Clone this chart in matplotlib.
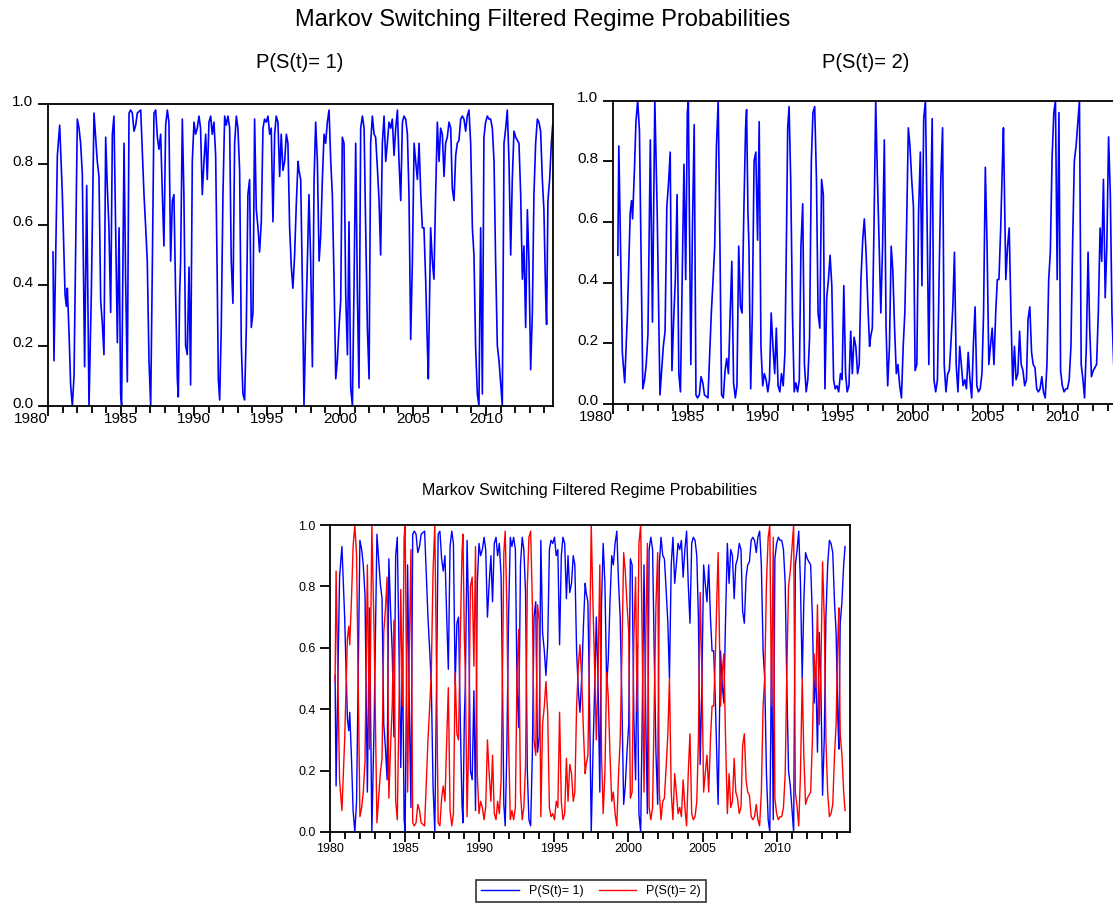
import numpy as np
import matplotlib.pyplot as plt
import matplotlib.transforms as mtransforms
from matplotlib.ticker import MultipleLocator, FormatStrFormatter

# Filtered probability of regime 1 (months after Jan 1980)
obs_month = [
    4.1, 4.9, 7.7, 9.6, 11.8, 14.0, 15.1, 15.9, 17.3, 18.6, 20.0, 21.4, 24.1,
    25.5, 26.8, 28.2, 30.1, 31.8, 33.7, 35.6, 37.8, 40.5, 41.9, 43.3, 44.7,
    46.0, 47.4, 48.8, 50.1, 51.5, 52.9, 54.2, 55.6, 57.0, 58.4, 59.7, 60.5,
    62.5, 63.8, 65.2, 66.6, 67.9, 69.3, 70.7, 72.1, 73.4, 76.2, 78.9, 80.3,
    81.6, 83.0, 84.4, 85.8, 87.1, 88.5, 89.9, 91.2, 92.6, 94.0, 95.3, 96.7,
    98.1, 99.4, 100.8, 102.2,
    103.5, 104.9, 106.3, 107.1, 108.2, 109.0, 110.4, 111.7, 113.1, 114.5,
    115.9, 117.2, 118.6, 120.0, 121.3, 122.7, 124.1, 125.4, 126.8, 128.2,
    129.6, 130.9, 132.3, 133.7, 135.0, 136.4, 137.8, 139.1, 140.0, 141.1,
    142.4, 143.8, 145.2, 146.5, 147.9, 149.3, 150.6, 152.0, 153.4, 154.8,
    156.1, 157.5, 158.9, 160.2, 161.6, 163.0, 164.3, 165.7, 167.1, 168.5,
    169.8, 171.2, 172.6, 173.9, 175.3, 176.7, 178.0, 179.4, 180.8, 182.2,
    183.5, 184.9, 186.3, 187.6, 189.0, 190.4, 191.7, 193.1, 194.5, 195.9,
    197.2, 198.6, 200.0, 201.3, 202.7, 204.1, 205.5,
    206.3, 207.7, 209.1, 210.4, 211.8, 213.2, 214.5, 215.9, 217.3, 218.7,
    220.0, 221.4, 222.8, 224.1, 225.5, 226.9, 228.2, 229.6, 231.0, 232.4,
    233.7, 235.1, 236.5, 237.8, 239.2, 240.6, 241.9, 243.3, 244.7, 246.1,
    247.4, 248.8, 250.2, 251.5, 252.9, 254.3, 255.6, 257.0, 258.4, 259.8,
    261.1, 262.5, 263.9, 265.2, 266.6, 268.0, 269.3, 270.7, 272.1, 273.4,
    274.8, 276.2, 277.6, 278.9, 280.3, 281.7, 283.0, 284.4, 285.8, 287.2,
    288.5, 289.9, 291.3, 292.6, 294.0, 295.4, 296.7, 298.1, 299.5, 300.9,
    302.2, 303.6, 305.0, 306.4, 307.7,
    309.0, 310.4, 311.8, 312.6, 313.7, 314.5, 315.9, 317.2, 318.6, 320.0,
    321.4, 322.7, 324.1, 325.5, 326.8, 328.2, 329.6, 331.0, 332.3, 333.7,
    335.1, 336.4, 337.8, 339.2, 340.5, 341.9, 343.3, 344.6, 346.0, 347.4,
    348.8, 350.1, 351.5, 352.9, 354.2, 355.6, 357.0, 358.3, 359.7, 361.1,
    362.5, 363.8, 365.2, 366.6, 367.9, 369.3, 370.7, 372.0, 373.4, 374.8,
    376.2, 377.5, 378.9, 380.3, 381.6, 383.0, 384.4, 385.7, 387.1, 388.5,
    389.9, 391.2, 392.6, 394.0, 395.3, 396.7, 398.1, 399.4, 400.8, 402.2,
    403.5, 404.9, 406.3, 407.6, 409.0, 409.8, 410.9, 412.3, 413.7, 414.8,
]
p1 = [
    0.51, 0.15, 0.83, 0.93, 0.70, 0.37, 0.33, 0.39, 0.24, 0.07, 0.00, 0.10, 0.95,
    0.92, 0.87, 0.77, 0.13, 0.73, 0.00, 0.37, 0.97, 0.81, 0.76, 0.35, 0.27,
    0.17, 0.89, 0.72, 0.59, 0.31, 0.90, 0.96, 0.59, 0.21, 0.59, 0.04, 0.00,
    0.87, 0.42, 0.08, 0.97, 0.98, 0.97, 0.91, 0.93, 0.97, 0.98, 0.70, 0.59,
    0.48, 0.15, 0.00, 0.48, 0.97, 0.98, 0.89, 0.85, 0.90, 0.70, 0.53, 0.93,
    0.98, 0.94, 0.48, 0.68,
    0.70, 0.37, 0.09, 0.03, 0.37, 0.48, 0.95, 0.70, 0.20, 0.17,
    0.46, 0.07, 0.81, 0.94, 0.90, 0.92, 0.96, 0.92, 0.70, 0.81,
    0.90, 0.75, 0.94, 0.96, 0.90, 0.94, 0.83, 0.42, 0.09, 0.02,
    0.26, 0.70, 0.96, 0.93, 0.96, 0.92, 0.48, 0.34, 0.87, 0.96,
    0.92, 0.78, 0.20, 0.04, 0.02, 0.26, 0.70, 0.75, 0.26, 0.31,
    0.95, 0.65, 0.59, 0.51, 0.61, 0.92, 0.95, 0.94, 0.96, 0.90,
    0.92, 0.61, 0.90, 0.96, 0.94, 0.76, 0.90, 0.78, 0.81, 0.90,
    0.87, 0.59, 0.46, 0.39, 0.50, 0.67, 0.81,
    0.78, 0.75, 0.40, 0.00, 0.26, 0.48, 0.70, 0.48, 0.13, 0.75,
    0.94, 0.81, 0.48, 0.56, 0.75, 0.90, 0.87, 0.94, 0.98, 0.81,
    0.70, 0.42, 0.09, 0.15, 0.26, 0.35, 0.89, 0.87, 0.37, 0.17,
    0.61, 0.06, 0.00, 0.39, 0.87, 0.37, 0.06, 0.92, 0.96, 0.92,
    0.59, 0.26, 0.09, 0.87, 0.96, 0.90, 0.89, 0.79, 0.68, 0.50,
    0.87, 0.96, 0.81, 0.87, 0.94, 0.92, 0.95, 0.83, 0.92, 0.98,
    0.81, 0.68, 0.94, 0.96, 0.95, 0.90, 0.70, 0.22, 0.48, 0.87,
    0.81, 0.75, 0.87, 0.70, 0.59,
    0.59, 0.42, 0.20, 0.09, 0.37, 0.59, 0.48, 0.42, 0.70, 0.94,
    0.81, 0.92, 0.90, 0.76, 0.87, 0.89, 0.94, 0.92, 0.72, 0.68,
    0.83, 0.87, 0.88, 0.95, 0.96, 0.95, 0.91, 0.96, 0.98, 0.87,
    0.59, 0.50, 0.19, 0.04, 0.00, 0.59, 0.04, 0.89, 0.94, 0.96,
    0.95, 0.95, 0.92, 0.81, 0.48, 0.20, 0.15, 0.08, 0.00, 0.87,
    0.92, 0.98, 0.81, 0.50, 0.75, 0.91, 0.89, 0.88, 0.87, 0.70,
    0.42, 0.53, 0.26, 0.65, 0.48, 0.12, 0.31, 0.70, 0.87, 0.95,
    0.94, 0.91, 0.75, 0.65, 0.37, 0.27, 0.68, 0.75, 0.87, 0.93,
]

year_ticks = [1980, 1985, 1990, 1995, 2000, 2005, 2010]
year_labels = ["1980", "1985", "1990", "1995", "2000", "2005", "2010"]
prob_ticks = [0.0, 0.2, 0.4, 0.6, 0.8, 1.0]

t = 1980 + np.array(obs_month) / 12.0
p1 = np.array(p1)
p2 = 1.0 - p1  # the two regime probabilities sum to one

plt.rcParams["font.family"] = ["Liberation Sans", "DejaVu Sans"]

W, H = 1113, 907
fig = plt.figure(figsize=(W / 100, H / 100), dpi=100)


def px_axes(left, top, right, bottom):
    return fig.add_axes([left / W, 1 - bottom / H, (right - left) / W, (bottom - top) / H])


def style(ax, x_end, fs, xpad, first_right=False, ylift=0):
    ax.set_xlim(1980, x_end)
    ax.set_ylim(0, 1)
    ax.set_xticks(year_ticks)
    labels = ax.set_xticklabels(year_labels)
    if first_right:
        labels[0].set_horizontalalignment("right")
    ax.xaxis.set_minor_locator(MultipleLocator(1))
    ax.set_yticks(prob_ticks)
    ax.yaxis.set_major_formatter(FormatStrFormatter("%.1f"))
    ax.tick_params(which="major", direction="out", length=7, width=1.3, labelsize=fs)
    ax.tick_params(which="minor", direction="out", length=5, width=1.3)
    ax.tick_params(axis="x", which="both", pad=xpad)
    if ylift:
        shift = mtransforms.ScaledTranslation(0, ylift / 100, fig.dpi_scale_trans)
        for lab in ax.get_yticklabels():
            lab.set_transform(lab.get_transform() + shift)
    for s in ax.spines.values():
        s.set_linewidth(1.3)


fig.text(543 / W, 1 - 20 / H, "Markov Switching Filtered Regime Probabilities",
         ha="center", va="center", fontsize=17)

# top left: regime 1
ax1 = px_axes(48, 104, 553, 406)
ax1.plot(t, p1, color="#0000ff", lw=1.2)
style(ax1, 1980 + 505 / 14.6, 11, -3, first_right=True, ylift=4)
fig.text(300 / W, 1 - 62 / H, "P(S(t)= 1)", ha="center", va="center", fontsize=14.5)

# top right: regime 2 (panel runs past the right edge of the image)
ax2 = px_axes(612.7, 100.5, 1131.7, 404)
ax2.plot(t, p2, color="#0000ff", lw=1.2)
style(ax2, 1980 + 519 / 15.0, 11, -3, first_right=True, ylift=4)
fig.text(866 / W, 1 - 62 / H, "P(S(t)= 2)", ha="center", va="center", fontsize=14.5)

# bottom: both regimes together
ax3 = px_axes(330, 525, 850, 832)
ax3.plot(t, p1, color="#0000ff", lw=1.0, label="P(S(t)= 1)")
ax3.plot(t, p2, color="#ff0000", lw=1.0, label="P(S(t)= 2)")
style(ax3, 1980 + 520 / 14.9, 9, 1)
fig.text(590 / W, 1 - 490 / H, "Markov Switching Filtered Regime Probabilities",
         ha="center", va="center", fontsize=11.5)

leg = fig.legend(loc="center", bbox_to_anchor=(591 / W, 1 - 891 / H), ncol=2,
                 fontsize=9, frameon=True, fancybox=False, edgecolor="black",
                 handlelength=3, columnspacing=1.2, borderpad=0.4)
leg.get_frame().set_linewidth(1.2)

fig.savefig("out.png", dpi=100)
